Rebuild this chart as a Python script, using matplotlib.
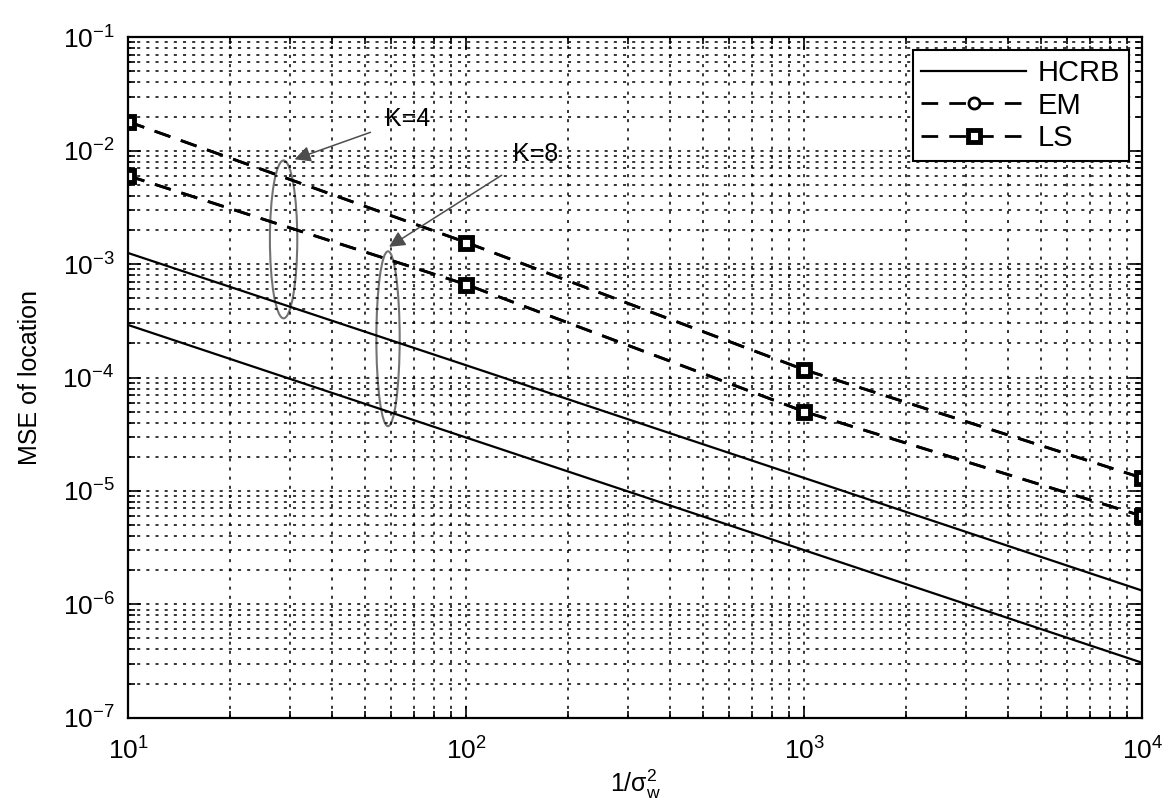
import numpy as np
import matplotlib
matplotlib.use('Agg')
import matplotlib.pyplot as plt
from matplotlib.patches import Ellipse
from matplotlib.ticker import NullFormatter

plt.rcParams['font.family'] = ['Liberation Sans', 'DejaVu Sans']
plt.rcParams['mathtext.fontset'] = 'custom'
plt.rcParams['mathtext.rm'] = 'Liberation Sans'
plt.rcParams['mathtext.it'] = 'Liberation Sans'

# values
snr = [10, 100, 1000, 10000]
hcrb_k4 = [1.25e-3, 1.28e-4, 1.3e-5, 1.32e-6]
hcrb_k8 = [2.9e-4, 2.95e-5, 3.0e-6, 3.05e-7]
em_k4 = [1.8e-2, 1.55e-3, 1.17e-4, 1.3e-5]
em_k8 = [6.0e-3, 6.6e-4, 5.0e-5, 6.0e-6]
ls_k4 = [1.8e-2, 1.55e-3, 1.17e-4, 1.3e-5]
ls_k8 = [6.0e-3, 6.6e-4, 5.0e-5, 6.0e-6]
xticks = [1e1, 1e2, 1e3, 1e4]
yticks = [1e-7, 1e-6, 1e-5, 1e-4, 1e-3, 1e-2, 1e-1]

# annotation: label, text pos, arrow tip, ellipse (center x, center y, width, height in axes fraction)
labels = ['K=4', 'K=8']
text_pos = [(67, 1.9e-2), (160, 9.4e-3)]
tip_pos = [(31, 8.4e-3), (59, 1.42e-3)]
ellipses = [(0.153, 0.703, 0.027, 0.232), (0.256, 0.557, 0.023, 0.257)]

fig = plt.figure(figsize=(11.68, 8.11), dpi=100)
ax = fig.add_axes([0.110, 0.115, 0.868, 0.839])

ax.loglog(snr, hcrb_k4, 'k-', lw=1.6, label='HCRB')
ax.loglog(snr, hcrb_k8, 'k-', lw=1.6)
dash = (0, (6, 4))
ax.loglog(snr, em_k4, color='k', ls=dash, lw=2, marker='o', ms=8, mfc='white', mew=2, label='EM')
ax.loglog(snr, em_k8, color='k', ls=dash, lw=2, marker='o', ms=8, mfc='white', mew=2)
ax.loglog(snr, ls_k4, color='k', ls=dash, lw=2, marker='s', ms=9, mfc='white', mew=3.5, label='LS')
ax.loglog(snr, ls_k8, color='k', ls=dash, lw=2, marker='s', ms=9, mfc='white', mew=3.5)

ax.set_xticks(xticks)
ax.set_yticks(yticks)
ax.set_xlim(10, 1e4)
ax.set_ylim(1e-7, 1e-1)
ax.xaxis.set_minor_formatter(NullFormatter())
ax.yaxis.set_minor_formatter(NullFormatter())
ax.grid(True, which='both', color='k', ls=(0, (2, 4)), lw=1.1)
ax.tick_params(which='both', direction='in', top=True, right=True, labelsize=19, width=1.2)
ax.tick_params(which='major', length=9)
ax.tick_params(which='minor', length=5)
ax.tick_params(axis='x', pad=14)
ax.tick_params(axis='y', pad=10)
for s in ax.spines.values():
    s.set_linewidth(1.6)

ax.set_xlabel(r'1/σ$_w^2$', fontsize=18)
ax.set_ylabel('MSE of location', fontsize=18)
ax.xaxis.set_label_coords(0.5, -0.073)
ax.yaxis.set_label_coords(-0.085, 0.5)

for lab, tp, tip, el in zip(labels, text_pos, tip_pos, ellipses):
    ax.annotate(lab, xy=tip, xytext=tp, fontsize=18, ha='center', va='center',
                arrowprops=dict(arrowstyle='-|>', color='0.3', lw=1.1, mutation_scale=24,
                                shrinkA=9, shrinkB=0))
    ax.add_patch(Ellipse((el[0], el[1]), el[2], el[3], transform=ax.transAxes,
                         fill=False, ec='0.45', lw=1.5))

leg = ax.legend(loc='upper right', fontsize=21, fancybox=False, framealpha=1,
                edgecolor='k', handlelength=3.6, borderaxespad=0.45,
                labelspacing=0.15, handletextpad=0.4, borderpad=0.3)
leg.get_frame().set_linewidth(1.5)

fig.savefig('out.png', dpi=100)
